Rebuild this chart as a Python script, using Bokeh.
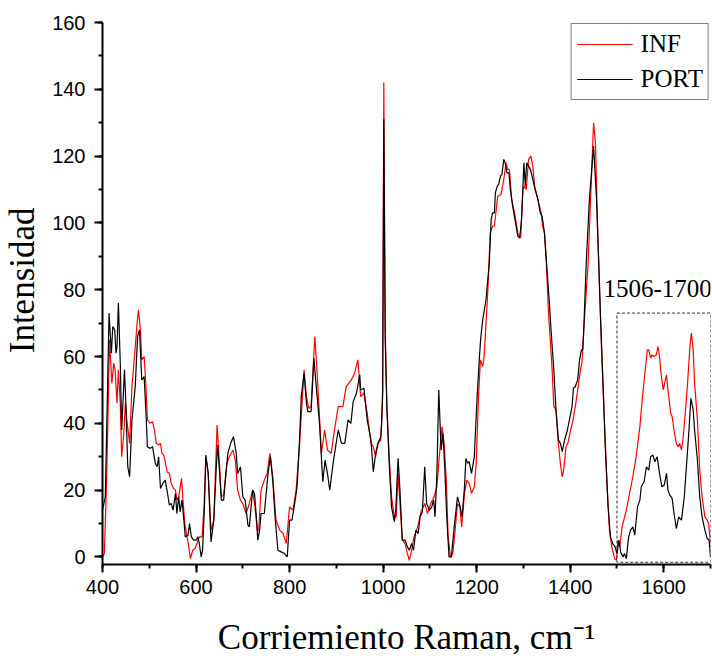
from bokeh.plotting import figure
from bokeh.models import Range1d, Label, Legend, LegendItem, SingleIntervalTicker
from bokeh.embed import file_html
from bokeh.resources import INLINE

# ---------------- data ----------------
port_x = [400, 406, 410, 414, 419, 422, 426, 429, 431, 434, 438, 441, 447, 450, 454, 458, 463, 470, 475, 479,
          484, 489, 493, 496, 502, 507, 513, 517, 520, 524, 529, 534, 539, 543, 547, 551, 556, 559, 563, 566,
          570, 574, 577, 583, 586, 590, 595, 600, 604, 607, 611, 614, 618, 621, 626, 632, 638, 643, 646, 650,
          654, 659, 664, 668, 674, 680, 686, 689, 695, 700, 705, 711, 714, 721, 725, 729, 732, 736, 739, 746,
          754, 759, 764, 769, 775, 782, 789, 795, 800, 805, 811, 816, 821, 825, 831, 836, 839, 846, 852, 857,
          864, 871, 876, 881, 886, 893, 904, 911, 918, 925, 931, 936, 943, 950, 952, 959, 966, 974, 979, 984,
          989, 995, 997, 999, 1001.5, 1004.5, 1008, 1013, 1018, 1024, 1027, 1032, 1036, 1041, 1047, 1052, 1056, 1061, 1065, 1070,
          1075, 1079, 1084, 1089, 1093, 1099, 1104, 1108, 1111, 1115, 1119, 1124, 1128, 1132, 1136, 1141, 1146, 1152, 1159, 1164,
          1169, 1174, 1177, 1181, 1184, 1189, 1195, 1201, 1206, 1209, 1213, 1220, 1227, 1231, 1234, 1238, 1240, 1244, 1247, 1251,
          1254, 1258, 1261, 1265, 1269, 1272, 1277, 1282, 1288, 1292, 1296, 1301, 1304, 1307, 1311, 1315, 1320, 1325, 1331, 1336,
          1340, 1345, 1350, 1356, 1359, 1365, 1370, 1375, 1379, 1383, 1388, 1394, 1399, 1404, 1407, 1411, 1416, 1420, 1424, 1427,
          1429, 1434, 1441, 1450, 1456, 1461, 1465, 1470, 1475, 1481, 1486, 1491, 1496, 1500, 1504, 1508, 1513, 1516, 1520, 1525,
          1529, 1534, 1538, 1544, 1549, 1552, 1558, 1563, 1568, 1572, 1577, 1581, 1586, 1591, 1596, 1601, 1606, 1609, 1613, 1618,
          1622, 1627, 1632, 1638, 1644, 1649, 1654, 1658, 1663, 1666, 1672, 1677, 1682, 1688, 1693, 1697, 1700]
port_y = [14, 18, 45, 73, 61, 69, 68, 61, 63, 76, 58, 38, 56, 46, 27, 24, 41, 51, 66, 68,
          53, 54, 43, 33, 32.5, 33, 28, 27, 30, 20.5, 22, 23, 19, 15.5, 16, 14, 19, 13, 18, 13.5,
          17, 11, 6, 6.5, 10, 6, 5, 5, 6, 4, 0, 2, 15, 30.5, 25, 4.5, 11, 26, 33.5, 26,
          17, 17, 25, 31, 34, 36, 31, 25, 27, 18, 17, 9.5, 9, 20, 19, 12, 5, 8, 13, 13,
          25, 30, 23, 12, 2, 1.5, 1, 0, 11, 11, 16, 21, 34, 48, 55, 46, 43.5, 43.5, 59.5, 51,
          40, 22.5, 29, 25, 20, 28, 38, 34, 34, 41, 40, 46.5, 49, 54.5, 50, 50.5, 41, 35, 25.5, 31,
          34, 36, 40, 50, 131, 65, 45, 28, 15, 10.5, 14, 29.5, 20, 5, 5, 3, 2, 4, 2, 8,
          7, 12, 13.5, 27, 16, 14, 15, 17, 12, 25, 50, 32, 37, 26, 12, 0, 0, 9, 18, 15.5,
          12, 21, 29.5, 28, 28.5, 25, 30, 48, 60, 66, 71, 77, 88, 101, 103, 103, 109, 111, 111.5, 114,
          114.5, 119, 118, 115, 115, 110, 105, 101, 96, 95.5, 101, 118, 111, 118, 117, 116, 113, 110, 107, 103,
          102, 97, 87, 75, 68, 56, 43, 35, 34, 31.5, 35, 38, 41.5, 45, 50.5, 51, 53, 59, 62, 62,
          68, 87, 107, 123, 108, 88, 71, 53, 33, 15, 6, 4, 3, 1, 5, 1.5, 0, 1, -0.5, 6,
          8, 9, 6.5, 15, 17, 21, 22.5, 27, 26, 30, 30.5, 28.5, 30, 25, 21, 21.5, 25, 20, 18.5, 17.5,
          13, 8.5, 12, 11, 18, 28, 38, 47.5, 44, 38, 29, 18, 12, 8, 5.5, 5, 0]

inf_x = [400, 404, 409, 415, 420, 424, 427, 431, 434, 438, 441, 445, 449, 452, 458, 463, 469, 474, 477, 481,
         484, 489, 493, 496, 502, 507, 511, 515, 520, 524, 527, 531, 534, 538, 543, 547, 552, 556, 559, 563,
         569, 572, 576, 581, 584, 588, 593, 598, 602, 607, 613, 617, 621, 626, 632, 638, 645, 650, 654, 659,
         666, 671, 679, 684, 689, 695, 700, 707, 714, 721, 726, 731, 734, 739, 746, 752, 758, 764, 771, 779,
         786, 793, 800, 807, 814, 821, 831, 836, 841, 846, 854, 859, 868, 875, 881, 889, 896, 904, 914, 921,
         932, 939, 946, 952, 959, 966, 974, 979, 984, 989, 995, 999, 1001.5, 1004.5, 1008, 1013, 1018, 1024, 1028, 1032,
         1036, 1041, 1047, 1052, 1056, 1061, 1066, 1074, 1081, 1089, 1095, 1102, 1109, 1115, 1120, 1126, 1131, 1135, 1139, 1144,
         1149, 1154, 1159, 1164, 1168, 1174, 1179, 1184, 1189, 1195, 1199, 1204, 1208, 1213, 1216, 1224, 1229, 1234, 1238, 1245,
         1252, 1258, 1263, 1266, 1270, 1275, 1281, 1288, 1294, 1299, 1302, 1306, 1311, 1316, 1320, 1324, 1331, 1338, 1341, 1345,
         1349, 1354, 1356, 1361, 1365, 1370, 1374, 1379, 1383, 1386, 1391, 1395, 1401, 1406, 1411, 1416, 1422, 1425, 1429, 1438,
         1445, 1450, 1454, 1459, 1465, 1468, 1474, 1479, 1484, 1489, 1495, 1499, 1502, 1506, 1511, 1520, 1527, 1534, 1541, 1549,
         1554, 1559, 1565, 1568, 1572, 1575, 1579, 1584, 1588, 1591, 1595, 1599, 1602, 1606, 1609, 1615, 1618, 1622, 1627, 1631,
         1634, 1638, 1641, 1646, 1651, 1656, 1659, 1663, 1666, 1672, 1677, 1682, 1688, 1693, 1696, 1700]
inf_y = [0, 1, 24, 65, 52, 58, 56, 46, 56, 46, 30, 36, 46, 41, 34, 51, 61, 70, 74, 68,
         59, 60, 51, 41, 40, 40.5, 38, 34, 33.5, 34, 31, 30.5, 28.5, 25.5, 25, 22, 20.5, 20, 17, 18,
         23.5, 17, 10, 6, 3.5, -0.5, 2, 2.5, 4, 6, 6, 15, 30, 25, 8, 11, 39.5, 28, 18, 18.5,
         28, 30, 32, 29, 20, 17, 16, 13, 16, 20, 15, 8, 8, 20, 23, 25, 31, 24, 11, 8,
         7, 4, 15, 14, 20, 33, 56, 48, 44.5, 45, 66, 55, 31, 38, 32, 31, 38, 45, 45, 51,
         53, 55, 59, 48, 49, 43, 34, 33, 30, 34, 35, 48, 142, 68, 45, 30, 18, 12, 12, 25,
         16, 5, 4, 1, -1, 2, 6, 9, 13.5, 16, 13, 16, 18, 21, 30, 39, 33, 23, 6, 0,
         1, 8, 16, 15, 9, 19, 23, 22, 19, 21, 28, 48, 59, 57, 60, 80, 97, 99, 99, 108,
         108.5, 113, 118, 116, 116, 107, 103, 97, 95.5, 110, 111, 110, 119, 120, 117, 111, 107, 103, 99, 97,
         88, 72, 68, 57, 45, 44, 35, 28, 24, 26, 33, 34, 38, 41, 45, 50, 56, 58, 68, 87,
         112, 130, 124, 97, 71, 58, 38, 21, 8, 3, -0.5, -1, 5, 3, 9, 14, 19, 24, 30, 39,
         47, 54, 62, 62, 59.5, 60.5, 60, 60.5, 63, 60, 54, 50, 52, 54.5, 50, 43, 42, 38, 34, 33,
         34, 32, 35, 43, 52, 63, 67, 62, 52, 41, 26, 18, 12, 11, 10, 4]

series_names = ["INF", "PORT"]
series_colors = ["#ff0000", "#000000"]
y_ticks = [0, 20, 40, 60, 80, 100, 120, 140, 160]
x_ticks = [400, 600, 800, 1000, 1200, 1400, 1600]
zoom_box = [1500, 1700, -1.6, 73]   # left, right, bottom, top of dashed region
zoom_text = "1506-1700"
x_title = "Corriemiento Raman, cm\u207b\u00b9"
y_title = "\u00a0\u00a0\u00a0Intensidad"

# ---------------- figure ----------------
p = figure(width=712, height=660, output_backend="svg", toolbar_location=None,
           x_range=Range1d(400, 1700), y_range=Range1d(-2.27, 160),
           min_border_left=102, min_border_right=2, min_border_top=22, min_border_bottom=96)
p.outline_line_color = None
p.xgrid.visible = False
p.ygrid.visible = False
p.background_fill_color = "white"
p.border_fill_color = "white"

for ax, ticks in ((p.xaxis[0], x_ticks), (p.yaxis[0], y_ticks)):
    ax.ticker = SingleIntervalTicker(interval=ticks[1] - ticks[0], num_minor_ticks=2)
    ax.axis_line_width = 2
    ax.major_tick_line_width = 2
    ax.minor_tick_line_width = 2
    ax.major_tick_out = 8
    ax.major_tick_in = 0
    ax.minor_tick_out = 4
    ax.minor_tick_in = 0
    ax.major_label_text_font = "Liberation Sans"
    ax.major_label_text_font_size = "20px"
    ax.major_label_text_color = "black"
    ax.axis_line_color = "black"
    ax.major_tick_line_color = "black"
    ax.minor_tick_line_color = "black"
    ax.axis_label_text_font = "Liberation Serif"
    ax.axis_label_text_font_style = "normal"
    ax.axis_label_text_color = "black"
p.xaxis[0].major_label_standoff = 7
p.yaxis[0].major_label_standoff = 9
p.xaxis[0].axis_label = x_title
p.xaxis[0].axis_label_text_font_size = "35px"
p.xaxis[0].axis_label_standoff = 21
p.yaxis[0].axis_label = y_title
p.yaxis[0].axis_label_text_font_size = "35px"
p.yaxis[0].axis_label_standoff = 7

r_inf = p.line(inf_x, inf_y, line_color=series_colors[0], line_width=1.2)
r_port = p.line(port_x, port_y, line_color=series_colors[1], line_width=1.2)

# dashed zoom region
p.quad(left=[zoom_box[0]], right=[zoom_box[1]], bottom=[zoom_box[2]], top=[zoom_box[3]],
       fill_color=None, line_color="#333333", line_width=1, line_dash="3 2")

legend = Legend(items=[LegendItem(label=series_names[0], renderers=[r_inf]),
                       LegendItem(label=series_names[1], renderers=[r_port])],
                location="top_right", margin=1, padding=5, spacing=5,
                glyph_width=56, glyph_height=30, label_height=30, label_standoff=8,
                label_text_font="Liberation Serif", label_text_font_size="25px",
                label_text_color="black",
                border_line_color="black", border_line_width=1,
                background_fill_color="white", background_fill_alpha=1)
p.add_layout(legend)

p.add_layout(Label(x=1471, y=80.4, text=zoom_text, text_font="Liberation Serif", text_color="black",
                   text_font_size="25px", text_align="left", text_baseline="alphabetic"))

open("out.html", "w").write(file_html(p, INLINE))
